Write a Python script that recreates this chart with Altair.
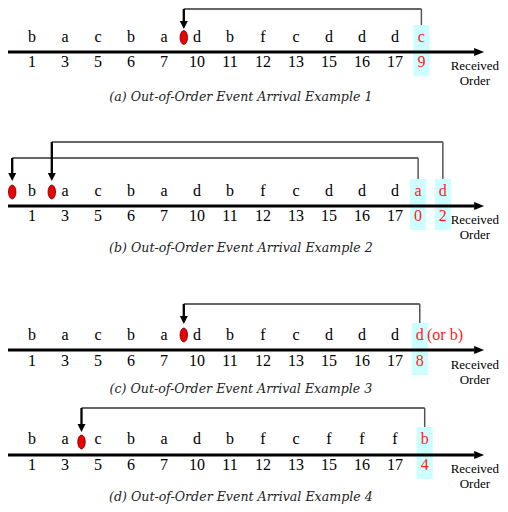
import altair as alt
import pandas as pd

# ---------------- data ----------------
PANELS = ["a", "b", "c", "d"]
LETTERS = {
    "a": ["b", "a", "c", "b", "a", "d", "b", "f", "c", "d", "d", "d"],
    "b": ["b", "a", "c", "b", "a", "d", "b", "f", "c", "d", "d", "d"],
    "c": ["b", "a", "c", "b", "a", "d", "b", "f", "c", "d", "d", "d"],
    "d": ["b", "a", "c", "b", "a", "d", "b", "f", "c", "f", "f", "f"],
}
ORDERS = [1, 3, 5, 6, 7, 10, 11, 12, 13, 15, 16, 17]
LATE_LETTER = {"a": ["c"], "b": ["a", "d"], "c": ["d"], "d": ["b"]}
LATE_ORDER = {"a": [9], "b": [0, 2], "c": [8], "d": [4]}
LATE_SLOT = {"a": [11.8], "b": [11.7, 12.45], "c": [11.75], "d": [11.9]}
INSERT_SLOT = {"a": [4.6], "b": [-0.6, 0.6], "c": [4.6], "d": [1.5]}
CAPTIONS = {
    "a": "(a) Out-of-Order Event Arrival Example 1",
    "b": "(b) Out-of-Order Event Arrival Example 2",
    "c": "(c) Out-of-Order Event Arrival Example 3",
    "d": "(d) Out-of-Order Event Arrival Example 4",
}
NOTE_C = "(or b)"

# ---------------- layout (page pixel rows) ----------------
LAYOUT = {
    "a": dict(letter=42, axis=52, number=67, caption=101, levels=[9], tip=29, ell=37.5),
    "b": dict(letter=196, axis=206, number=221, caption=252, levels=[158, 142], tip=181, ell=192),
    "c": dict(letter=340, axis=350, number=366, caption=393, levels=[304], tip=324, ell=335),
    "d": dict(letter=444, axis=455, number=470, caption=501, levels=[408], tip=432, ell=442),
}
AXIS_START, AXIS_END, AXIS_HEAD = -0.75, 13.4, 13.55
LABEL_SLOT = 13.42
CAPTION_SLOT = 6.33
RED = "#ff1a1a"
CYAN = "#ccffff"
SERIF = "Liberation Serif"

texts, boxes, axes, hz, rv, lv, heads, ells, captions, recv = ([] for _ in range(10))
for p in PANELS:
    L = LAYOUT[p]
    for i, (let, num) in enumerate(zip(LETTERS[p], ORDERS)):
        texts.append(dict(x=i, y=L["letter"], t=let, c="black"))
        texts.append(dict(x=i, y=L["number"], t=str(num), c="black"))
    axes.append(dict(x=AXIS_START, x2=AXIS_END, y=L["axis"], hx=AXIS_HEAD))
    recv.append(dict(x=LABEL_SLOT, y=L["number"] + 3, t="Received"))
    recv.append(dict(x=LABEL_SLOT, y=L["number"] + 18, t="Order"))
    captions.append(dict(x=CAPTION_SLOT, y=L["caption"], t=CAPTIONS[p]))
    for let, num, bs, ins, lev in zip(LATE_LETTER[p], LATE_ORDER[p], LATE_SLOT[p],
                                      INSERT_SLOT[p], L["levels"]):
        top = L["letter"] - 17
        boxes.append(dict(x=bs - 0.245, x2=bs + 0.245, y=top, y2=L["number"] + 9))
        texts.append(dict(x=bs, y=L["letter"], t=let, c=RED))
        texts.append(dict(x=bs, y=L["number"], t=str(num), c=RED))
        hz.append(dict(x=ins, x2=bs, y=lev))
        rv.append(dict(x=bs, y=lev, y2=top))
        lv.append(dict(x=ins, y=lev, y2=L["tip"] - 7))
        heads.append(dict(x=ins, y=L["tip"] - 4))
        ells.append(dict(x=ins, y=L["ell"]))

W, H = 492, 496
xs = alt.Scale(domain=[-24 / 33, 468 / 33], nice=False, zero=False)
ys = alt.Scale(domain=[8, 8 + H], nice=False, zero=False, reverse=True)
X = lambda f="x": alt.X(f"{f}:Q", scale=xs, axis=None)
Y = lambda f="y": alt.Y(f"{f}:Q", scale=ys, axis=None)

box_layer = alt.Chart(pd.DataFrame(boxes)).mark_rect(color=CYAN).encode(
    x=X(), x2="x2:Q", y=Y(), y2="y2:Q")
axis_layer = alt.Chart(pd.DataFrame(axes)).mark_rule(color="black", strokeWidth=3).encode(
    x=X(), x2="x2:Q", y=Y())
axis_head = alt.Chart(pd.DataFrame(axes)).mark_point(
    shape="M-1,-0.8L1,0L-1,0.8Z", size=100, filled=True, color="black", opacity=1).encode(
    x=X("hx"), y=Y())
hz_layer = alt.Chart(pd.DataFrame(hz)).mark_rule(color="#333333", strokeWidth=1.3).encode(
    x=X(), x2="x2:Q", y=Y())
rv_layer = alt.Chart(pd.DataFrame(rv)).mark_rule(color="#555555", strokeWidth=1.5).encode(
    x=X(), y=Y(), y2="y2:Q")
lv_layer = alt.Chart(pd.DataFrame(lv)).mark_rule(color="black", strokeWidth=2.3).encode(
    x=X(), y=Y(), y2="y2:Q")
head_layer = alt.Chart(pd.DataFrame(heads)).mark_point(
    shape="M-1,-1L1,-1L0,1Z", size=64, filled=True, color="black", opacity=1).encode(
    x=X(), y=Y())
ell_layer = alt.Chart(pd.DataFrame(ells)).mark_point(
    shape="M0,-1A0.54,1 0 1,1 0,1A0.54,1 0 1,1 0,-1Z", size=190, filled=True,
    fill="#ee0000", stroke="#550000", strokeWidth=0.8, opacity=1).encode(x=X(), y=Y())
text_layer = alt.Chart(pd.DataFrame(texts)).mark_text(
    font=SERIF, fontSize=16, baseline="alphabetic", align="center").encode(
    x=X(), y=Y(), text="t:N", color=alt.Color("c:N", scale=None))
recv_layer = alt.Chart(pd.DataFrame(recv)).mark_text(
    font=SERIF, fontSize=13, baseline="alphabetic", align="center", color="black").encode(
    x=X(), y=Y(), text="t:N")
cap_layer = alt.Chart(pd.DataFrame(captions)).mark_text(
    font="DejaVu Serif", fontStyle="italic", fontSize=12.6, baseline="alphabetic",
    align="center", color="#222222").encode(x=X(), y=Y(), text="t:N")
note_layer = alt.Chart(pd.DataFrame([dict(x=11.97, y=LAYOUT["c"]["letter"], t=NOTE_C)])).mark_text(
    font=SERIF, fontSize=16, baseline="alphabetic", align="left", color=RED).encode(
    x=X(), y=Y(), text="t:N")

chart = alt.layer(
    box_layer, axis_layer, axis_head, hz_layer, rv_layer, lv_layer, head_layer,
    ell_layer, text_layer, recv_layer, cap_layer, note_layer
).properties(width=W, height=H, padding=0, autosize=alt.AutoSizeParams(type="none"),
             background="white").configure_view(stroke=None)

chart.save("out.html", embed_options={"renderer": "svg", "actions": False})
